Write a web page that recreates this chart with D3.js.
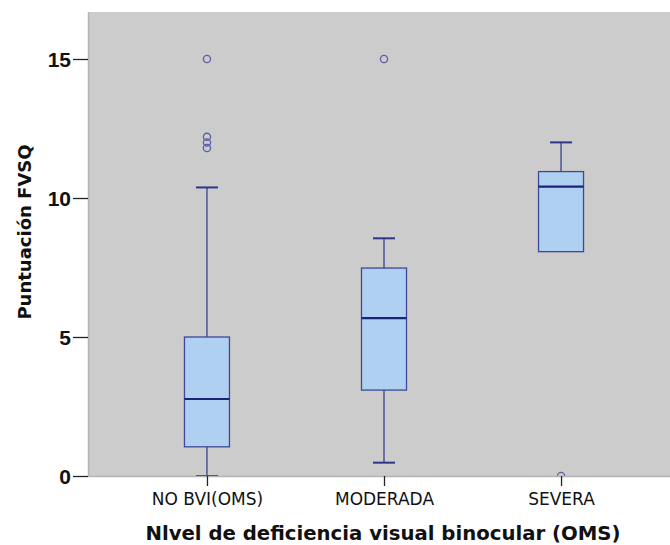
<!DOCTYPE html>
<html>
<head>
<meta charset="utf-8">
<script src="https://cdn.jsdelivr.net/npm/d3@7"></script>
<style>
  html, body { margin: 0; padding: 0; background: #ffffff; }
  svg { display: block; }
</style>
</head>
<body>
<svg id="chart" width="670" height="545"></svg>
<script>
// ---- data ----
const categories = ["NO BVI(OMS)", "MODERADA", "SEVERA"];
const whiskerLow  = [0.0, 0.48, 8.07];
const q1          = [1.05, 3.09, 8.07];
const median      = [2.77, 5.68, 10.41];
const q3          = [5.0, 7.48, 10.95];
const whiskerHigh = [10.38, 8.55, 12.0];
const outliers    = [[15, 12.2, 12.0, 11.8], [15], [0]];
const yTicks      = [0, 5, 10, 15];
const yTitle = "Puntuación FVSQ";
const xTitle = "Nlvel de deficiencia visual binocular (OMS)";

const boxes = categories.map((c, i) => ({
  cat: c, lo: whiskerLow[i], q1: q1[i], med: median[i], q3: q3[i], hi: whiskerHigh[i], out: outliers[i]
}));

// ---- layout ----
const plot = { left: 88, top: 12, right: 670, bottom: 476 };
const svg = d3.select("#chart");

const y = d3.scaleLinear().domain([0, 15]).range([476, 59]);
const x = d3.scalePoint().domain(categories).range([plot.left, 680]).padding(0.672);
const boxW = 45, capW = 22;

// background
svg.append("rect")
  .attr("x", plot.left).attr("y", plot.top)
  .attr("width", plot.right - plot.left).attr("height", plot.bottom - plot.top)
  .attr("fill", "#cccccc");

svg.append("defs").append("clipPath").attr("id", "clip")
  .append("rect").attr("x", plot.left).attr("y", plot.top)
  .attr("width", plot.right - plot.left).attr("height", plot.bottom - plot.top);

// frame line (left)
svg.append("line").attr("x1", plot.left + 0.5).attr("x2", plot.left + 0.5)
  .attr("y1", plot.top).attr("y2", plot.bottom).attr("stroke", "#b4b4b4").attr("stroke-width", 1.5);

const g = svg.append("g").attr("clip-path", "url(#clip)");

const stroke = "#2c3588";
const boxG = g.selectAll("g.box").data(boxes).join("g").attr("class", "box");

// whiskers
boxG.append("line")
  .attr("x1", d => x(d.cat)).attr("x2", d => x(d.cat))
  .attr("y1", d => y(d.q3)).attr("y2", d => y(d.hi))
  .attr("stroke", stroke).attr("stroke-width", 1.2);
boxG.append("line")
  .attr("x1", d => x(d.cat)).attr("x2", d => x(d.cat))
  .attr("y1", d => y(d.q1)).attr("y2", d => y(d.lo))
  .attr("stroke", stroke).attr("stroke-width", 1.2);
// caps
boxG.append("line")
  .attr("x1", d => x(d.cat) - capW / 2).attr("x2", d => x(d.cat) + capW / 2)
  .attr("y1", d => y(d.hi)).attr("y2", d => y(d.hi))
  .attr("stroke", stroke).attr("stroke-width", 2);
boxG.filter(d => d.lo < d.q1).append("line")
  .attr("x1", d => x(d.cat) - capW / 2).attr("x2", d => x(d.cat) + capW / 2)
  .attr("y1", d => y(d.lo)).attr("y2", d => y(d.lo))
  .attr("stroke", stroke).attr("stroke-width", 2);
// box
boxG.append("rect")
  .attr("x", d => x(d.cat) - boxW / 2).attr("width", boxW)
  .attr("y", d => y(d.q3)).attr("height", d => y(d.q1) - y(d.q3))
  .attr("fill", "#afd0f0").attr("stroke", "#3d4896").attr("stroke-width", 1.3);
// median
boxG.append("line")
  .attr("x1", d => x(d.cat) - boxW / 2).attr("x2", d => x(d.cat) + boxW / 2)
  .attr("y1", d => y(d.med)).attr("y2", d => y(d.med))
  .attr("stroke", "#1c2278").attr("stroke-width", 2.2);
// outliers
boxG.selectAll("circle").data(d => d.out.map(v => ({ cat: d.cat, v }))).join("circle")
  .attr("cx", d => x(d.cat)).attr("cy", d => y(d.v)).attr("r", 3.6)
  .attr("fill", "none").attr("stroke", "#5a5ea6").attr("stroke-width", 1.3);

// bottom frame
svg.append("line").attr("x1", plot.left).attr("x2", plot.right)
  .attr("y1", plot.bottom + 0.5).attr("y2", plot.bottom + 0.5).attr("stroke", "#b4b4b4").attr("stroke-width", 1.5);

// y axis
const yAxis = svg.append("g").attr("transform", `translate(${plot.left},0)`)
  .call(d3.axisLeft(y).tickValues(yTicks).tickSize(15).tickPadding(2).tickFormat(d3.format("d")));
yAxis.select(".domain").remove();
yAxis.selectAll(".tick line").attr("stroke", "#222").attr("stroke-width", 1.3);
yAxis.selectAll(".tick text")
  .attr("font-family", "'Liberation Sans', Arial, sans-serif")
  .attr("font-weight", "bold").attr("font-size", 21).attr("fill", "#111")
  .attr("dy", "0.36em");

// x axis
const xAxis = svg.append("g").attr("transform", `translate(0,${plot.bottom})`)
  .call(d3.axisBottom(x).tickSize(10).tickPadding(7));
xAxis.select(".domain").remove();
xAxis.selectAll(".tick line").attr("stroke", "#222").attr("stroke-width", 1.3);
xAxis.selectAll(".tick text")
  .attr("font-family", "'DejaVu Sans', sans-serif")
  .attr("font-size", 17).attr("fill", "#111");

// titles
svg.append("text")
  .attr("transform", "translate(31,232) rotate(-90)")
  .attr("text-anchor", "middle")
  .attr("font-family", "'DejaVu Sans', sans-serif").attr("font-weight", "bold")
  .attr("font-size", 18).attr("fill", "#111")
  .text(yTitle);
svg.append("text")
  .attr("x", 383).attr("y", 540)
  .attr("text-anchor", "middle")
  .attr("font-family", "'DejaVu Sans', sans-serif").attr("font-weight", "bold")
  .attr("font-size", 19.7).attr("fill", "#111")
  .text(xTitle);
</script>
</body>
</html>
